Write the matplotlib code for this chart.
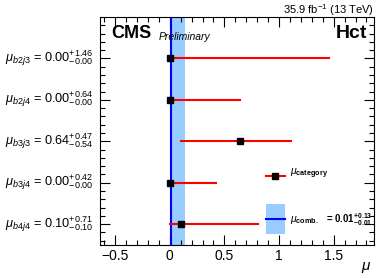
import matplotlib
matplotlib.use("Agg")
import matplotlib.pyplot as plt
from matplotlib.ticker import MultipleLocator, FixedLocator, NullFormatter
import numpy as np

plt.rcParams['font.family'] = ['Liberation Sans', 'DejaVu Sans']
plt.rcParams['mathtext.fontset'] = 'custom'
plt.rcParams['mathtext.rm'] = 'Liberation Sans'
plt.rcParams['mathtext.it'] = 'Liberation Sans:italic'
plt.rcParams['mathtext.bf'] = 'Liberation Sans:bold'

# data
categories = ['b2j3', 'b2j4', 'b3j3', 'b3j4', 'b4j4']
mu = [0.00, 0.00, 0.64, 0.00, 0.10]
err_up = [1.46, 0.64, 0.47, 0.42, 0.71]
err_dn = [0.00, 0.00, 0.54, 0.00, 0.10]
mu_comb = 0.01
comb_up = 0.13
comb_dn = 0.01

fig = plt.figure(figsize=(3.81, 2.78), dpi=100)
ax = fig.add_axes([0.262, 0.119, 0.720, 0.820])

ypos = np.arange(len(categories))[::-1] + 0.5

# combined band and line
ax.axvspan(mu_comb - comb_dn, mu_comb + comb_up, color='#99ccff', lw=0, zorder=1)
ax.axvline(mu_comb, color='#0000ff', lw=1.5, zorder=2)

# per-category results
for y, m, u, d in zip(ypos, mu, err_up, err_dn):
    ax.plot([m - d, m + u], [y, y], color='red', lw=1.5, zorder=3)
ax.plot(mu, ypos, 's', color='black', ms=4.5, zorder=4, ls='none')

ax.set_xlim(-0.64, 1.87)
ax.set_ylim(0, 5.5)

ax.xaxis.set_minor_locator(MultipleLocator(0.1))
ax.set_xticks([-0.5, 0, 0.5, 1, 1.5])
ax.set_xticklabels(['\u22120.5', '0', '0.5', '1', '1.5'])
ax.yaxis.set_major_locator(FixedLocator(ypos))
ax.yaxis.set_minor_locator(FixedLocator(np.arange(0.1, 5.5, 0.2)))
ax.yaxis.set_major_formatter(NullFormatter())
ax.tick_params(which='both', direction='in', top=True, right=True, labelsize=10, pad=3)
ax.tick_params(which='major', length=7, width=0.8)
ax.tick_params(which='minor', length=3.5, width=0.8)
for s in ax.spines.values():
    s.set_linewidth(0.8)

# category labels
for y, c, m, u, d in zip(ypos, categories, mu, err_up, err_dn):
    lab = r'$\mu_{%s}$ = %.2f$^{+%.2f}_{-%.2f}$' % (c, m, u, d)
    ax.text(-0.025, y, lab, transform=ax.get_yaxis_transform(), ha='right', va='center', fontsize=9.2)

# header texts
ax.text(0.04, 0.965, 'CMS', transform=ax.transAxes, fontsize=13, fontweight='bold', va='top', ha='left')
ax.text(0.215, 0.9, 'Preliminary', transform=ax.transAxes, fontsize=7.5, style='italic',
        va='baseline', ha='left')
ax.text(0.975, 0.965, 'Hct', transform=ax.transAxes, fontsize=14, fontweight='bold', va='top', ha='right')
fig.text(0.982, 0.95, r'35.9 fb$^{-1}$ (13 TeV)', fontsize=8, ha='right', va='baseline')
fig.text(0.975, 0.012, r'$\mu$', fontsize=11, ha='right', va='bottom')

# legend drawn by hand
ax.plot([0.606, 0.675], [0.303, 0.303], color='red', lw=1.5, transform=ax.transAxes, clip_on=False)
ax.plot([0.64], [0.303], 's', color='black', ms=4.5, transform=ax.transAxes)
ax.text(0.693, 0.31, r'$\mu_{\mathbf{category}}$', transform=ax.transAxes, fontsize=7.5, va='center', ha='left')
ax.add_patch(plt.Rectangle((0.606, 0.048), 0.069, 0.132, transform=ax.transAxes, color='#99ccff', lw=0, zorder=5))
ax.plot([0.606, 0.675], [0.114, 0.114], color='#0000ff', lw=1.5, transform=ax.transAxes, zorder=6)
ax.text(0.693, 0.11, r'$\mu_{\mathbf{comb.}}$', transform=ax.transAxes, fontsize=7.5, va='center', ha='left')
ax.text(0.825, 0.11, r'= $\mathbf{0.01}^{\mathbf{+0.13}}_{\mathbf{-0.01}}$', transform=ax.transAxes, fontsize=7,
        fontweight='bold', va='center', ha='left')

fig.savefig('out.png', dpi=100)
